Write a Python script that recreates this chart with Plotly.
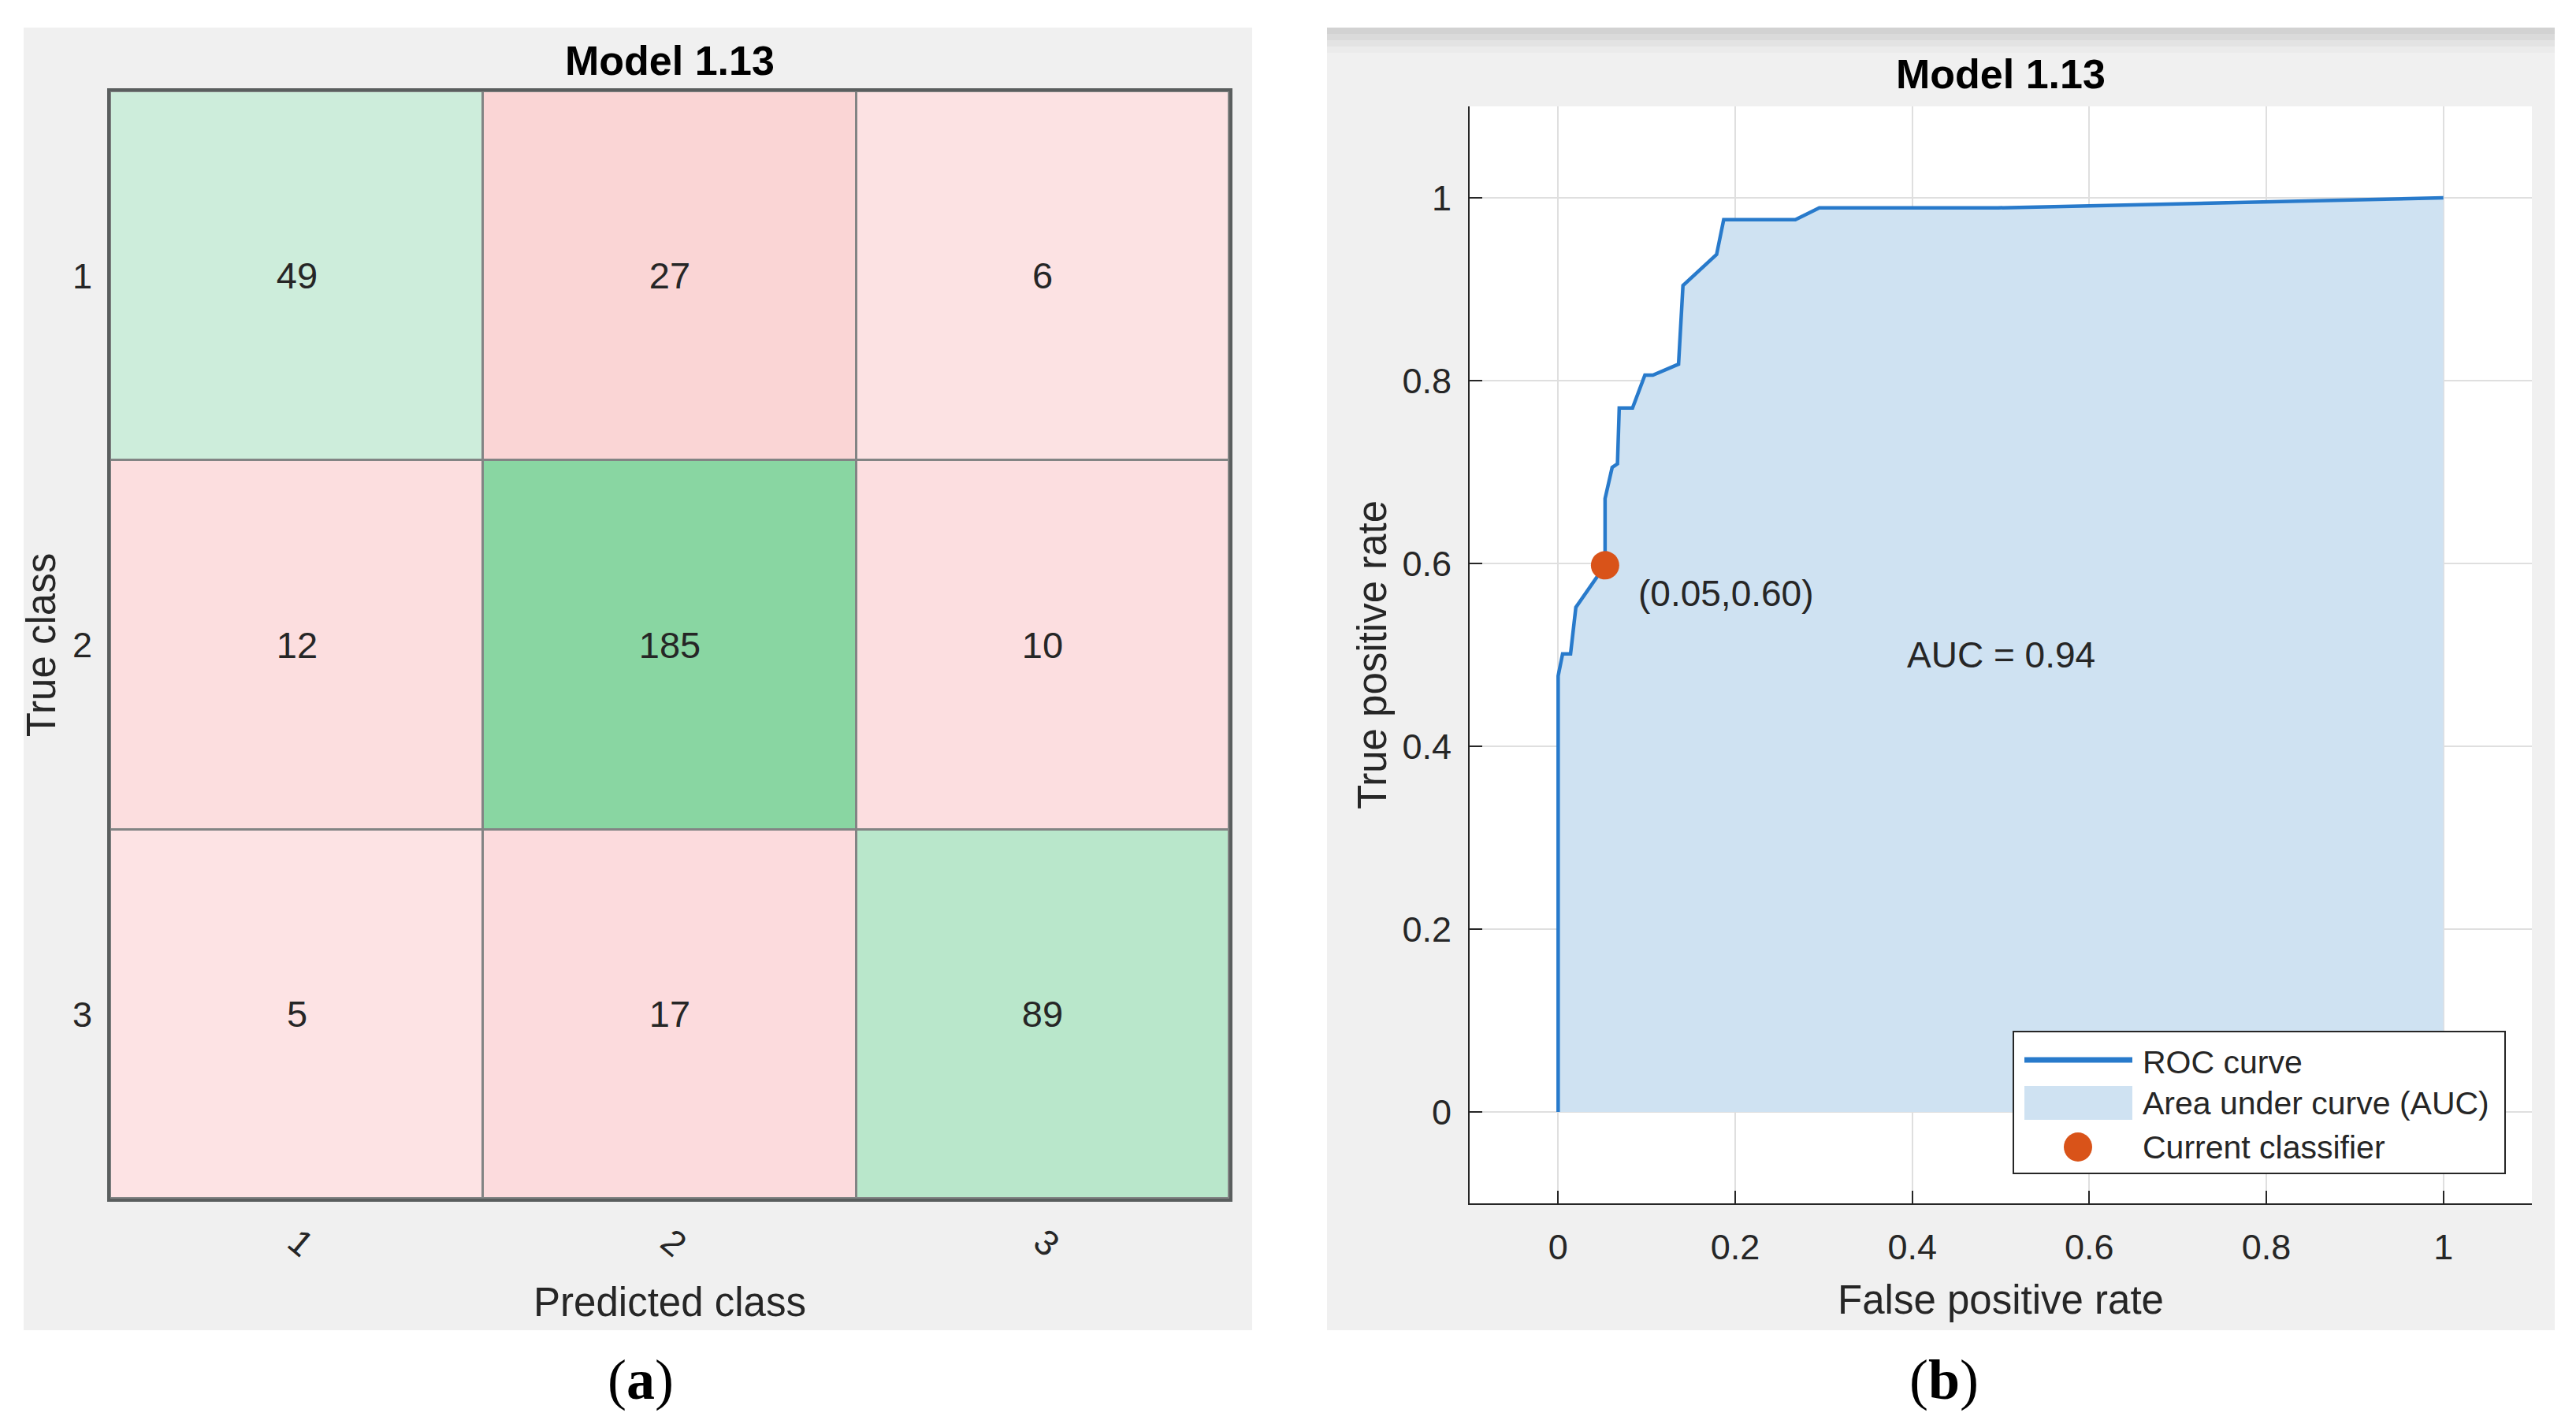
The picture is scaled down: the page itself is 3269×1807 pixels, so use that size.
import plotly.graph_objects as go

W, H = 3269, 1807
OFF = 8                     # default page margin of the html body
FW, FH = W - 2 * OFF, H - 2 * OFF
DY = 3                      # small vertical correction

# ---------------- data ----------------
classes = ["1", "2", "3"]
cm = [[49, 27, 6],
      [12, 185, 10],
      [5, 17, 89]]

fpr = [0.0, 0.0, 0.005, 0.014, 0.020, 0.053, 0.053, 0.061, 0.067, 0.069, 0.084,
       0.098, 0.107, 0.136, 0.141, 0.179, 0.187, 0.268, 0.295, 0.497, 1.0]
tpr = [0.0, 0.477, 0.501, 0.501, 0.552, 0.598, 0.671, 0.705, 0.709, 0.770, 0.770,
       0.806, 0.806, 0.818, 0.904, 0.938, 0.976, 0.976, 0.989, 0.989, 1.0]
op_fpr = [0.053]
op_tpr = [0.598]
auc_value = 0.94
title_text = "Model 1.13"
legend_labels = ["ROC curve", "Area under curve (AUC)", "Current classifier"]

FONT = "Liberation Sans, Arial, sans-serif"
TXT = "rgb(38,38,38)"
ROC_BLUE = "rgb(40,122,203)"
AUC_FILL = "rgb(207,226,242)"
OP_RED = "rgb(217,83,25)"


def px(v):
    return (v - OFF) / FW


def py(v):
    return 1 - (v - OFF + DY) / FH


# ---------------- figure ----------------
fig = go.Figure()

n = len(classes)
diag = [[cm[i][j] if i == j else None for j in range(n)] for i in range(n)]
off = [[cm[i][j] if i != j else None for j in range(n)] for i in range(n)]
xs = list(range(1, n + 1))

green_scale = [[0, "rgb(240,250,244)"], [49 / 185, "rgb(205,237,219)"],
               [89 / 185, "rgb(185,231,203)"], [1, "rgb(137,214,162)"]]
red_scale = [[0, "rgb(254,232,233)"], [5 / 27, "rgb(253,227,228)"],
             [6 / 27, "rgb(252,226,227)"], [10 / 27, "rgb(252,222,224)"],
             [12 / 27, "rgb(252,222,223)"], [17 / 27, "rgb(252,219,221)"],
             [1, "rgb(250,213,213)"]]

for z, cs, zmax in [(diag, green_scale, 185), (off, red_scale, 27)]:
    fig.add_trace(go.Heatmap(
        x=xs, y=xs, z=z, colorscale=cs, zmin=0, zmax=zmax, showscale=False,
        xgap=3, ygap=3, texttemplate="%{z}",
        textfont=dict(size=47, color=TXT, family=FONT),
        hoverinfo="skip", xaxis="x", yaxis="y", showlegend=False))

# ROC panel
fig.add_trace(go.Scatter(
    x=fpr, y=tpr, mode="lines", fill="tozeroy", fillcolor=AUC_FILL,
    line=dict(width=0, color="rgba(0,0,0,0)"), name=legend_labels[1],
    showlegend=False, xaxis="x2", yaxis="y2"))
fig.add_trace(go.Scatter(
    x=fpr, y=tpr, mode="lines", line=dict(color=ROC_BLUE, width=4.5),
    name=legend_labels[0], showlegend=False, xaxis="x2", yaxis="y2"))
fig.add_trace(go.Scatter(
    x=op_fpr, y=op_tpr, mode="markers",
    marker=dict(size=36, color=OP_RED),
    name=legend_labels[2], showlegend=False, xaxis="x2", yaxis="y2"))

# ---------------- geometry (reference pixels) ----------------
hx0, hx1, hy0, hy1 = 140, 1560, 113, 1518
rx0, rx1, ry0, ry1 = 1865, 3213, 132, 1524

shapes = [
    dict(type="rect", xref="paper", yref="paper", x0=px(30), x1=px(1589),
         y0=py(1685), y1=py(32), fillcolor="rgb(240,240,240)", line_width=0, layer="below"),
    dict(type="rect", xref="paper", yref="paper", x0=px(1684), x1=px(3242),
         y0=py(1685), y1=py(32), fillcolor="rgb(240,240,240)", line_width=0, layer="below"),
]
for (a, b, c) in [(32, 40, 210), (40, 48, 218), (48, 56, 227), (56, 64, 235)]:
    shapes.append(dict(type="rect", xref="paper", yref="paper", x0=px(1684), x1=px(3242),
                       y0=py(b), y1=py(a), fillcolor=f"rgb({c},{c},{c})",
                       line_width=0, layer="below"))
shapes.append(dict(type="rect", xref="paper", yref="paper", x0=px(rx0), x1=px(rx1),
                   y0=py(ry1), y1=py(ry0), fillcolor="white", line_width=0, layer="below"))
shapes.append(dict(type="rect", xref="paper", yref="paper", x0=px(hx0), x1=px(hx1),
                   y0=py(hy1), y1=py(hy0), fillcolor="rgb(130,132,132)", line_width=0,
                   layer="below"))

# custom legend (box, samples)
lx0, lx1, ly0, ly1 = 2555, 3179, 1306, 1486
shapes += [
    dict(type="rect", xref="paper", yref="paper", x0=px(lx0), x1=px(lx1),
         y0=py(ly1), y1=py(ly0), fillcolor="white", line=dict(color=TXT, width=2),
         layer="above"),
    dict(type="line", xref="paper", yref="paper", x0=px(2569), x1=px(2706),
         y0=py(1342), y1=py(1342), line=dict(color=ROC_BLUE, width=7), layer="above"),
    dict(type="rect", xref="paper", yref="paper", x0=px(2569), x1=px(2706),
         y0=py(1418), y1=py(1375), fillcolor=AUC_FILL, line_width=0, layer="above"),
    dict(type="circle", xref="paper", yref="paper", x0=px(2619), x1=px(2655),
         y0=py(1471), y1=py(1434), fillcolor=OP_RED, line_width=0, layer="above"),
]

axis_font = dict(family=FONT, size=45, color=TXT)
title_font = dict(family=FONT, size=51, color=TXT)

fig.update_layout(
    width=FW, height=FH, margin=dict(l=0, r=0, t=0, b=0),
    paper_bgcolor="white", plot_bgcolor="white",
    font=dict(family=FONT, color=TXT),
    shapes=shapes, showlegend=False,
    xaxis=dict(domain=[px(hx0), px(hx1)], anchor="y", range=[0.5, n + 0.5],
               tickvals=xs, ticktext=classes, tickangle=40, tickfont=axis_font,
               showgrid=False, zeroline=False, showline=True, mirror=True,
               linecolor="rgb(90,94,94)", linewidth=4, ticks="",
               ticklabelstandoff=7,
               title=dict(text="Predicted class", font=title_font, standoff=32)),
    yaxis=dict(domain=[py(hy1), py(hy0)], anchor="x", range=[n + 0.5, 0.5],
               tickvals=xs, ticktext=classes, tickfont=axis_font,
               showgrid=False, zeroline=False, showline=True, mirror=True,
               linecolor="rgb(90,94,94)", linewidth=4, ticks="",
               ticklabelstandoff=10,
               title=dict(text="True class", font=title_font, standoff=6)),
    xaxis2=dict(domain=[px(rx0), px(rx1)], anchor="y2", range=[-0.1, 1.1],
                tickvals=[0, 0.2, 0.4, 0.6, 0.8, 1], ticktext=["0", "0.2", "0.4", "0.6", "0.8", "1"],
                tickfont=axis_font, showgrid=True, gridcolor="rgb(223,223,223)", gridwidth=2,
                zeroline=False, showline=True, linecolor=TXT, linewidth=2,
                ticks="inside", ticklen=16, tickwidth=2, tickcolor=TXT,
                ticklabelstandoff=15,
                title=dict(text="False positive rate", font=title_font, standoff=24)),
    yaxis2=dict(domain=[py(ry1), py(ry0)], anchor="x2", range=[-0.1, 1.1],
                tickvals=[0, 0.2, 0.4, 0.6, 0.8, 1], ticktext=["0", "0.2", "0.4", "0.6", "0.8", "1"],
                tickfont=axis_font, showgrid=True, gridcolor="rgb(223,223,223)", gridwidth=2,
                zeroline=False, showline=True, linecolor=TXT, linewidth=2,
                ticks="inside", ticklen=16, tickwidth=2, tickcolor=TXT,
                ticklabelstandoff=12,
                title=dict(text="True positive rate", font=title_font, standoff=4)),
)

annotations = [
    dict(text="<b>" + title_text + "</b>", xref="paper", yref="paper",
         x=px((hx0 + hx1) / 2), y=py(74), showarrow=False,
         font=dict(family=FONT, size=52, color="black"), xanchor="center", yanchor="middle"),
    dict(text="<b>" + title_text + "</b>", xref="paper", yref="paper",
         x=px((rx0 + rx1) / 2), y=py(91), showarrow=False,
         font=dict(family=FONT, size=52, color="black"), xanchor="center", yanchor="middle"),
    dict(text=f"({op_fpr[0]:.2f},{op_tpr[0]:.2f})", xref="x2", yref="y2",
         x=op_fpr[0], y=op_tpr[0], xanchor="left", yanchor="middle", xshift=40, yshift=-36,
         showarrow=False, font=dict(family=FONT, size=46, color=TXT)),
    dict(text=f"AUC = {auc_value:.2f}", xref="x2", yref="y2", x=0.5, y=0.5,
         xanchor="center", yanchor="middle", showarrow=False,
         font=dict(family=FONT, size=46, color=TXT)),
    dict(text="(<b>a</b>)", xref="paper", yref="paper", x=px(813), y=py(1748),
         xanchor="center", yanchor="middle", showarrow=False,
         font=dict(family="Liberation Serif, Times New Roman, serif", size=72, color="black")),
    dict(text="(<b>b</b>)", xref="paper", yref="paper", x=px(2467), y=py(1748),
         xanchor="center", yanchor="middle", showarrow=False,
         font=dict(family="Liberation Serif, Times New Roman, serif", size=72, color="black")),
]
for label, yc in zip(legend_labels, [1345, 1397, 1453]):
    annotations.append(dict(text=label, xref="paper", yref="paper", x=px(2717), y=py(yc),
                            xanchor="left", yanchor="middle", showarrow=False,
                            font=dict(family=FONT, size=41, color=TXT)))
fig.update_layout(annotations=annotations)

fig.write_html("out.html")
